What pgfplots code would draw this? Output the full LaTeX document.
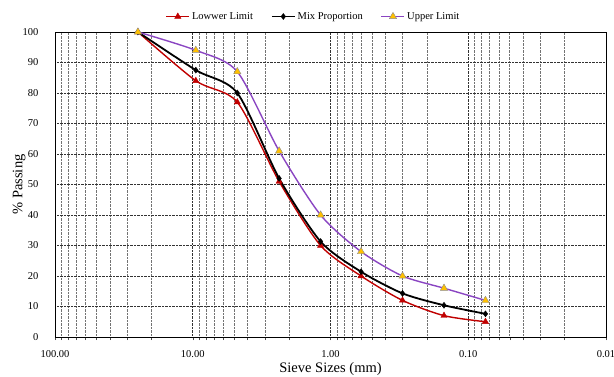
\documentclass[border=0pt]{standalone}
\usepackage{fontspec}
\setmainfont{Liberation Serif}
\usepackage{pgfplots}
\pgfplotsset{compat=1.18}
\definecolor{lowred}{HTML}{C00000}
\definecolor{uppurple}{HTML}{8A45C2}
\definecolor{upgold}{HTML}{FFC000}
\begin{document}
\begin{tikzpicture}
\useasboundingbox (-55pt,-39pt) rectangle (559pt,337pt);
\begin{axis}[
  at={(0,0)}, anchor=south west,
  scale only axis,
  width=551pt, height=305pt,
  xmode=log, x dir=reverse,
  xmin=0.01, xmax=100,
  ymin=0, ymax=100,
  xtick={0.01,0.1,1,10,100},
  xticklabels={0.01,0.10,1.00,10.00,100.00},
  ytick={0,10,...,100},
  /pgf/number format/assume math mode=true,
  tick label style={font=\fontsize{10.5}{11}\selectfont, black},
  xticklabel style={yshift=-7pt},
  yticklabel style={xshift=-10pt},
  grid=both,
  major grid style={black!80, densely dotted, line width=0.6pt},
  minor grid style={black!55, densely dotted, line width=0.5pt},
  tick style={black!70},
  major tick length=3pt, minor tick length=3pt,
  tick align=outside,
  xtick pos=bottom, ytick pos=left,
  ytick style={draw=none},
  axis line style={black, line width=0.9pt},
  xlabel={Sieve Sizes (mm)},
  ylabel={\% Passing},
  label style={font=\fontsize{14.5}{15}\selectfont},
  xlabel style={at={(axis description cs:0.5,-0.106)}, anchor=center},
  ylabel style={at={(axis description cs:-0.0653,0.5)}, anchor=center},
  legend style={at={(axis description cs:0.5,1)}, anchor=center, xshift=-17pt, yshift=15.5pt, draw=none, fill=none,
    legend columns=3, font=\fontsize{10.5}{11}\selectfont,
    /tikz/every even column/.append style={column sep=16pt}},
  legend cell align=left,
  legend image code/.code={\draw[mark repeat=2,mark phase=2] plot coordinates {(0pt,0pt)(11.5pt,0pt)(23pt,0pt)};},
]
\addplot[lowred, line width=1.4pt, smooth, tension=0.45, mark=triangle*, mark size=3.6pt, mark options={fill=lowred, draw=lowred, line width=0.4pt}]
coordinates {(25,100) (9.5,84) (4.75,77) (2.36,51) (1.18,30) (0.6,20) (0.3,12) (0.15,7) (0.075,5)};
\addlegendentry{Lowwer Limit}
\addplot[black, line width=1.8pt, smooth, tension=0.45, mark=diamond*, mark size=3pt, mark options={fill=black, line width=0.4pt}]
coordinates {(25,100) (9.5,87.5) (4.75,80) (2.36,52) (1.18,31.3) (0.6,21.4) (0.3,14.3) (0.15,10.4) (0.075,7.6)};
\addlegendentry{Mix Proportion}
\addplot[uppurple, line width=1.4pt, smooth, tension=0.45, mark=triangle*, mark size=4.2pt, mark options={fill=upgold, draw=black!45, line width=0.4pt}]
coordinates {(25,100) (9.5,94) (4.75,87) (2.36,61) (1.18,40) (0.6,28) (0.3,20) (0.15,16) (0.075,12)};
\addlegendentry{Upper Limit}
\end{axis}
\end{tikzpicture}
\end{document}
